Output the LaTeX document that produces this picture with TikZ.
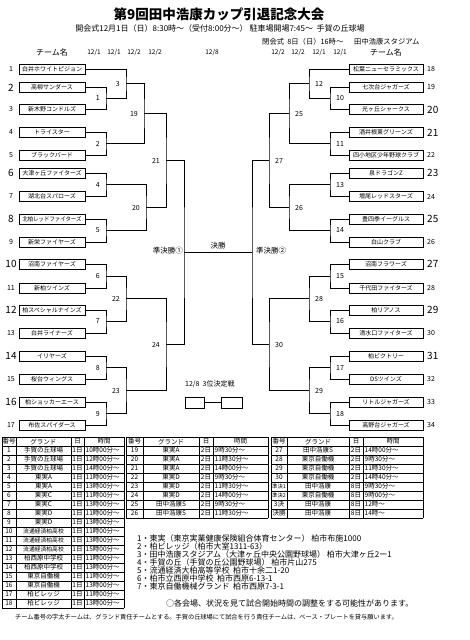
\documentclass[tikz,border=0pt]{standalone}
\usepackage{fontspec}
\setmainfont{Noto Sans CJK JP}
\usetikzlibrary{calc}
\newcommand{\fsz}[1]{\fontsize{#1}{#1}\selectfont}
\begin{document}
\begin{tikzpicture}[x=1pt,y=-1pt,
  tbox/.style={draw,line width=0.9pt,minimum height=10pt,inner sep=0pt,font=\fsz{6}},
  ltbox/.style={tbox,minimum width=66pt},
  rtbox/.style={tbox,minimum width=74pt},
  bl/.style={line width=0.7pt},
  mlab/.style={font=\fsz{7},inner sep=0pt},
  snum/.style={font=\fsz{7},inner sep=0pt},
  bnum/.style={font=\fsz{10},inner sep=0pt},
  tl/.style={line width=0.6pt},
  tc/.style={font=\fsz{6.5},inner sep=0pt},
  tw/.style={tc,anchor=west},
  note/.style={font=\fsz{8},inner sep=0pt,anchor=west},
  hd/.style={font=\fsz{6.5},inner sep=0pt}]
\fill[white] (0,0) rectangle (469,640);
\useasboundingbox (0,0) rectangle (469,640);

% titles
\node[font=\fsz{13.5}\bfseries,inner sep=0pt] (title) at (219,14) {第9回田中浩康カップ引退記念大会};
\node[font=\fsz{8},inner sep=0pt] (sub) at (220,28) {開会式12月1日（日）8:30時～（受付8:00分～）\ 駐車場開場7:45～\ \ 手賀の丘球場};
\node[font=\fsz{7.3},inner sep=0pt,anchor=west] (close1) at (262,42) {閉会式\ \ 8日（日）16時～};
\node[font=\fsz{7.3},inner sep=0pt,anchor=west] (close2) at (354,42) {田中浩康スタジアム};
\node[font=\fsz{8},inner sep=0pt] (hl) at (52,52) {チーム名};
\node[font=\fsz{8},inner sep=0pt] (hr) at (386,52) {チーム名};
\foreach \dx/\dd [count=\k] in {94/1,114/1,134/2,155/2,212/8,278/2,298/2,319/1,340/1}
  \node[hd] (D\k) at (\dx,52) {12/\dd};

% left teams
\foreach \tn/\yy/\bb [count=\i] in {白井ホワイトピジョン/69/0,高柳サンダース/87.5/1,新木野コンドルズ/109.5/0,トライスター/132.5/0,ブラックバード/155/0,大津ヶ丘ファイターズ/173/1,湖北台スパローズ/196.5/0,{\scalebox{0.9}[1]{北柏レッドファイターズ}}/219/1,新栄ファイヤーズ/242/0,沼南ファイヤーズ/264/1,新柏ツインズ/288/0,柏スペシャルナインズ/310/1,白井ライナーズ/333/0,イリヤーズ/356/1,桜台ウィングス/379/0,柏ショッカーエース/402/1,布佐スパイダース/425/0}{
  \node[ltbox] (T\i) at (52,\yy) {\tn};
  \ifnum\bb=1 \node[bnum] (N\i) at (11,\yy) {\i};\else \node[snum] (N\i) at (11,\yy) {\i};\fi
}
% right teams
\foreach \tn/\yy/\bb [count=\i from 18] in {松葉ニューセラミックス/69/0,七次台ジャガーズ/87.5/0,光ヶ丘シャークス/109.5/1,酒井根東グリーンズ/132.5/1,四小地区少年野球クラブ/155/0,泉ドラゴンZ/173/1,増尾レッドスターズ/196.5/0,豊四季イーグルス/219/1,白山クラブ/242/0,沼南フラワーズ/264/1,千代田ファイターズ/288/0,柏リアノス/310/1,清水口ファイターズ/333/0,柏ビクトリー/356/1,DSツインズ/379/0,リトルジャガーズ/402/0,高野台ジャガーズ/425/0}{
  \node[rtbox] (T\i) at (386,\yy) {\tn};
  \ifnum\bb=1 \node[bnum,anchor=west] (N\i) at (427,\yy) {\i};\else \node[snum,anchor=west] (N\i) at (427,\yy) {\i};\fi
}

% match points left
\coordinate (M1) at (106,98.5);
\coordinate (M2) at (106,143.75);
\coordinate (M3) at (126,83.75);
\coordinate (M4) at (106,184.75);
\coordinate (M5) at (106,230.5);
\coordinate (M6) at (106,276);
\coordinate (M7) at (106,321.5);
\coordinate (M8) at (106,367.5);
\coordinate (M9) at (106,413.5);
\coordinate (M19) at (144,113.75);
\coordinate (M20) at (146,207.625);
\coordinate (M21) at (166,160.69);
\coordinate (M22) at (126,298.75);
\coordinate (M23) at (126,390.5);
\coordinate (M24) at (166,344.625);
\coordinate (S1) at (184,252.66);
% match points right
\coordinate (M10) at (330,98.5);
\coordinate (M11) at (330,143.75);
\coordinate (M12) at (309,83.75);
\coordinate (M13) at (330,184.75);
\coordinate (M14) at (330,230.5);
\coordinate (M15) at (330,276);
\coordinate (M16) at (330,321.5);
\coordinate (M17) at (330,367.5);
\coordinate (M18) at (330,413.5);
\coordinate (M25) at (289,113.75);
\coordinate (M26) at (289,207.625);
\coordinate (M27) at (269,160.69);
\coordinate (M28) at (309,298.75);
\coordinate (M29) at (309,390.5);
\coordinate (M30) at (269,344.625);
\coordinate (S2) at (252,252.66);

% left bracket
\draw[bl] (T2.east) -| (M1) |- (T3.east);
\draw[bl] (T4.east) -| (M2) |- (T5.east);
\draw[bl] (T1.east) -| (M3) |- (M1);
\draw[bl] (T6.east) -| (M4) |- (T7.east);
\draw[bl] (T8.east) -| (M5) |- (T9.east);
\draw[bl] (T10.east) -| (M6) |- (T11.east);
\draw[bl] (T12.east) -| (M7) |- (T13.east);
\draw[bl] (T14.east) -| (M8) |- (T15.east);
\draw[bl] (T16.east) -| (M9) |- (T17.east);
\draw[bl] (M3) -| (M19) |- (M2);
\draw[bl] (M4) -| (M20) |- (M5);
\draw[bl] (M19) -| (M21) |- (M20);
\draw[bl] (M6) -| (M22) |- (M7);
\draw[bl] (M8) -| (M23) |- (M9);
\draw[bl] (M22) -| (M24) |- (M23);
\draw[bl] (M21) -| (S1) |- (M24);
% right bracket
\draw[bl] (T19.west) -| (M10) |- (T20.west);
\draw[bl] (T21.west) -| (M11) |- (T22.west);
\draw[bl] (T18.west) -| (M12) |- (M10);
\draw[bl] (T23.west) -| (M13) |- (T24.west);
\draw[bl] (T25.west) -| (M14) |- (T26.west);
\draw[bl] (T27.west) -| (M15) |- (T28.west);
\draw[bl] (T29.west) -| (M16) |- (T30.west);
\draw[bl] (T31.west) -| (M17) |- (T32.west);
\draw[bl] (T33.west) -| (M18) |- (T34.west);
\draw[bl] (M12) -| (M25) |- (M11);
\draw[bl] (M13) -| (M26) |- (M14);
\draw[bl] (M25) -| (M27) |- (M26);
\draw[bl] (M15) -| (M28) |- (M16);
\draw[bl] (M17) -| (M29) |- (M18);
\draw[bl] (M28) -| (M30) |- (M29);
\draw[bl] (M27) -| (S2) |- (M30);
\draw[bl] (S1) -- (S2);

% match labels
\foreach \m in {1,2,3,4,5,6,7,8,9,19,20,21,22,23,24}
  \node[mlab,left=6pt] (ML\m) at (M\m) {\m};
\foreach \m in {10,11,12,13,14,15,16,17,18,25,26,27,28,29,30}
  \node[mlab,right=6pt] (ML\m) at (M\m) {\m};
\node[font=\fsz{7.5},inner sep=0pt,anchor=east] (sf1) at (183,251) {準決勝①};
\node[font=\fsz{7.5},inner sep=0pt,anchor=west] (sf2) at (256,251) {準決勝②};
\node[font=\fsz{7.5},inner sep=0pt] (fin) at (218,246) {決勝};

% third place
\node[font=\fsz{7},inner sep=0pt,anchor=west] (thl) at (185,384) {12/8\ \ 3位決定戦};
\node[draw,line width=0.9pt,minimum width=19pt,minimum height=11pt,inner sep=0pt] (P1) at (194.5,402.5) {};
\node[draw,line width=0.9pt,minimum width=21pt,minimum height=11pt,inner sep=0pt] (P2) at (231.5,402.5) {};
\draw[bl] (P1) -- (P2);

% table 1
\foreach \k in {0,...,19} \draw[tl] (2,{437+9*\k}) -- (124,{437+9*\k});
\foreach \xx in {2,16,71,84,124} \draw[tl] (\xx,437) -- (\xx,608);
\node[tc] (h1a) at (9,441.5) {番号};
\node[tc] (h1b) at (43.5,441.5) {グランド};
\node[tc] (h1c) at (77.5,441.5) {日};
\node[tc] (h1d) at (104,441.5) {時間};
\foreach \n/\g/\d/\t [count=\i] in {1/手賀の丘球場/1日/10時00分～,2/手賀の丘球場/1日/12時00分～,3/手賀の丘球場/1日/14時00分～,4/東実A/1日/11時00分～,5/東実A/1日/13時00分～,6/東実C/1日/11時00分～,7/東実C/1日/13時00分～,8/東実D/1日/11時00分～,9/東実D/1日/13時00分～,10/{\fsz{5.8}流通経済柏高校}/1日/11時00分～,11/{\fsz{5.8}流通経済柏高校}/1日/13時00分～,12/{\fsz{5.8}流通経済柏高校}/1日/15時00分～,13/柏西原中学校/1日/11時00分～,14/柏西原中学校/1日/13時00分～,15/東京自働機/1日/11時00分～,16/東京自働機/1日/13時00分～,17/柏ビレッジ/1日/11時00分～,18/柏ビレッジ/1日/13時00分～}{
  \node[tc] at (9,{441.5+9*\i}) {\n};
  \node[tc] at (43.5,{441.5+9*\i}) {\g};
  \node[tc] at (77.5,{441.5+9*\i}) {\d};
  \node[tw] at (85.5,{441.5+9*\i}) {\t};
}
% table 2
\foreach \k in {0,...,9} \draw[tl] (126,{437+9*\k}) -- (268,{437+9*\k});
\foreach \xx in {126,143,199,213,268} \draw[tl] (\xx,437) -- (\xx,518);
\node[tc] (h2a) at (134.5,441.5) {番号};
\node[tc] (h2b) at (171,441.5) {グランド};
\node[tc] (h2c) at (206,441.5) {日};
\node[tc] (h2d) at (240.5,441.5) {時間};
\foreach \n/\g/\d/\t [count=\i] in {19/東実A/2日/9時30分～,20/東実A/2日/11時30分～,21/東実A/2日/14時00分～,22/東実D/2日/9時30分～,23/東実D/2日/11時30分～,24/東実D/2日/14時00分～,25/田中浩康S/2日/9時30分～,26/田中浩康S/2日/11時30分～}{
  \node[tc] at (134.5,{441.5+9*\i}) {\n};
  \node[tc] at (171,{441.5+9*\i}) {\g};
  \node[tc] at (206,{441.5+9*\i}) {\d};
  \node[tw] at (214.5,{441.5+9*\i}) {\t};
}
% table 3
\foreach \k in {0,...,9} \draw[tl] (271,{437+9*\k}) -- (423,{437+9*\k});
\foreach \xx in {271,287,349,363,423} \draw[tl] (\xx,437) -- (\xx,518);
\node[tc] (h3a) at (279,441.5) {番号};
\node[tc] (h3b) at (318,441.5) {グランド};
\node[tc] (h3c) at (356,441.5) {日};
\node[tc] (h3d) at (393,441.5) {時間};
\foreach \n/\g/\d/\t [count=\i] in {27/田中浩康S/2日/14時00分～,28/東京自働機/2日/9時30分～,29/東京自働機/2日/11時30分～,30/東京自働機/2日/14時40分～,{\fsz{5.3}準決1}/田中浩康/8日/9時30分～,{\fsz{5.3}準決2}/東京自働機/8日/9時00分～,3決/田中浩康/8日/12時～,決勝/田中浩康/8日/14時～}{
  \node[tc] at (279,{441.5+9*\i}) {\n};
  \node[tc] at (318,{441.5+9*\i}) {\g};
  \node[tc] at (356,{441.5+9*\i}) {\d};
  \node[tw] at (364.5,{441.5+9*\i}) {\t};
}

% notes
\node[note] (n1) at (137,538) {1・東実（東京実業健康保険組合体育センター）\ 柏市布施1000};
\node[note] (n2) at (137,546) {2・柏ビレッジ（柏市大室1311-63）};
\node[note] (n3) at (137,554) {3・田中浩康スタジアム（大津ヶ丘中央公園野球場）\ 柏市大津ヶ丘2ー1};
\node[note] (n4) at (137,562) {4・手賀の丘（手賀の丘公園野球場）\ 柏市片山275};
\node[note] (n5) at (137,570) {5・流通経済大柏高等学校\ \ 柏市十余二1-20};
\node[note] (n6) at (137,578) {6・柏市立西原中学校\ \ 柏市西原6-13-1};
\node[note] (n7) at (137,586) {7・東京自働機械グランド\ \ 柏市西原7-3-1};
\node[note] (n8) at (166,603) {○各会場、状況を見て試合開始時間の調整をする可能性があります。};
\node[font=\fsz{6.2},inner sep=0pt,anchor=west] (n9) at (15,617) {チーム番号の字太チームは、グランド責任チームとする。手賀の丘球場にて試合を行う責任チームは、ベース・プレートを貸与願います。};
\end{tikzpicture}
\end{document}
